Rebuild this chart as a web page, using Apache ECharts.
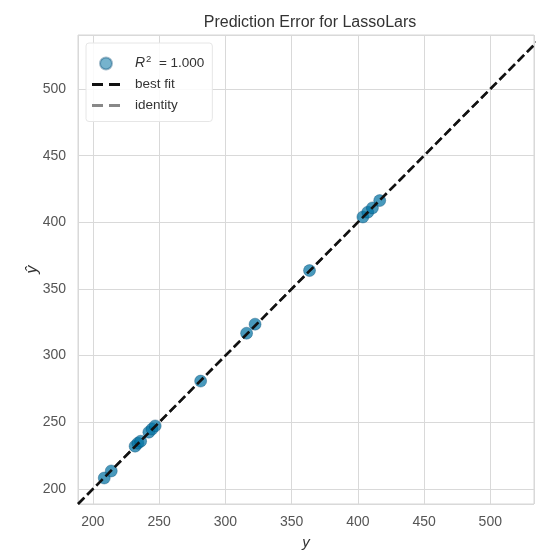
<!DOCTYPE html>
<html>
<head>
<meta charset="utf-8">
<script src="https://cdn.jsdelivr.net/npm/echarts@6/dist/echarts.min.js"></script>
<style>
  html, body { margin: 0; padding: 0; background: #fff; }
  #chart { width: 536px; height: 552px; }
</style>
</head>
<body>
<div id="chart"></div>
<script>
// Actual target values (y) and model predictions (y-hat)
const yTrue = [208.5, 213.8, 231.8, 233.9, 236.0, 242.2, 244.6, 247.0, 281.3, 316.0, 322.4, 363.5, 403.8, 407.5, 411.0, 416.5];
const yPred = [208.2, 213.5, 232.1, 234.3, 235.8, 242.6, 244.9, 247.3, 280.9, 316.8, 323.6, 363.8, 404.0, 407.6, 410.8, 416.3];

// Axis extents and tick step
const xRange = [188.7, 533];
const yRange = [188.7, 540.5];
const tickStep = 50;

// Best-fit and identity lines (both y = x over the plotted range)
const bestFit = [[188.7, 188.7], [540.5, 540.5]];
const identity = [[188.7, 188.7], [540.5, 540.5]];

const r2Text = '1.000';

const FONT = 'Liberation Sans, Arial, sans-serif';
const points = yTrue.map((v, i) => [v, yPred[i]]);

// Only label the round ticks (multiples of the step), not the range edges
const tickLabel = v => (Math.abs(v / tickStep - Math.round(v / tickStep)) < 1e-6 ? String(Math.round(v)) : '');

const chart = echarts.init(document.getElementById('chart'), null, { renderer: 'canvas' });
chart.setOption({
  backgroundColor: '#ffffff',
  animation: false,
  title: {
    text: 'Prediction Error for LassoLars',
    left: 305, top: 10, textAlign: 'center',
    textStyle: { fontFamily: FONT, fontSize: 16, fontWeight: 'normal', color: '#333' }
  },
  grid: {
    left: 78, right: 2, top: 35, bottom: 48,
    outerBoundsMode: 'none', containLabel: false,
    show: true, borderColor: '#d6d6d6', borderWidth: 1
  },
  xAxis: {
    type: 'value', min: xRange[0], max: xRange[1],
    splitNumber: 7, minInterval: tickStep, maxInterval: tickStep,
    name: 'y', nameLocation: 'middle', nameGap: 31, nameMoveOverlap: false,
    nameTextStyle: { fontFamily: FONT, fontSize: 15, fontStyle: 'italic', color: '#333' },
    axisLine: { show: false }, axisTick: { show: false },
    axisLabel: { formatter: tickLabel, fontFamily: FONT, fontSize: 14, color: '#555', margin: 11 },
    splitLine: { show: true, lineStyle: { color: '#d9d9d9', width: 1 } }
  },
  yAxis: {
    type: 'value', min: yRange[0], max: yRange[1],
    splitNumber: 7, minInterval: tickStep, maxInterval: tickStep,
    name: 'ŷ', nameLocation: 'middle', nameGap: 37, nameMoveOverlap: false,
    nameTextStyle: { fontFamily: FONT, fontSize: 16, fontStyle: 'italic', color: '#333' },
    axisLine: { show: false }, axisTick: { show: false },
    axisLabel: { formatter: tickLabel, fontFamily: FONT, fontSize: 14, color: '#555', margin: 12 },
    splitLine: { show: true, lineStyle: { color: '#d9d9d9', width: 1 } }
  },
  legend: {
    orient: 'vertical', left: 86, top: 43,
    padding: [11, 8, 9, 6], itemGap: 7,
    itemWidth: 28, itemHeight: 12,
    backgroundColor: 'rgba(255,255,255,0.85)',
    borderColor: '#e6e6e6', borderWidth: 1, borderRadius: 3,
    textStyle: {
      fontFamily: FONT, fontSize: 13.5, color: '#333',
      rich: {
        p: { fontFamily: FONT, fontSize: 13.5, color: '#333', padding: [0, 0, 0, 10] },
        r: { fontFamily: FONT, fontSize: 14, fontStyle: 'italic', color: '#333', padding: [0, 0, 0, 10] },
        s: { fontFamily: FONT, fontSize: 9.5, color: '#333', verticalAlign: 'top', padding: [0, 0, 9, 1] },
        n: { fontFamily: FONT, fontSize: 13.5, color: '#333' }
      }
    },
    formatter: name => name === 'r2' ? '{r|R}{s|2}{n|  = ' + r2Text + '}' : '{p|' + name + '}',
    data: [
      { name: 'r2', icon: 'circle', itemStyle: { color: 'rgba(2,114,162,0.75)' } },
      { name: 'best fit', icon: 'path://M0,0H11V3H0Z M17,0H28V3H17Z', itemStyle: { color: '#111' } },
      { name: 'identity', icon: 'path://M0,0H11V3H0Z M17,0H28V3H17Z', itemStyle: { color: '#888' } }
    ]
  },
  series: [
    {
      name: 'identity', type: 'line', data: identity, symbol: 'none', z: 3,
      lineStyle: { color: '#888', width: 2.5, type: [9, 4] }, itemStyle: { color: '#888' }
    },
    {
      name: 'r2', type: 'scatter', data: points, symbolSize: 12, z: 4,
      itemStyle: { color: '#0272a2', opacity: 0.72, borderColor: 'rgba(1,70,110,0.5)', borderWidth: 1 }
    },
    {
      name: 'best fit', type: 'line', data: bestFit, symbol: 'none', z: 5,
      lineStyle: { color: '#111', width: 2.6, type: [9, 4] }, itemStyle: { color: '#111' }
    }
  ]
});
</script>
</body>
</html>
